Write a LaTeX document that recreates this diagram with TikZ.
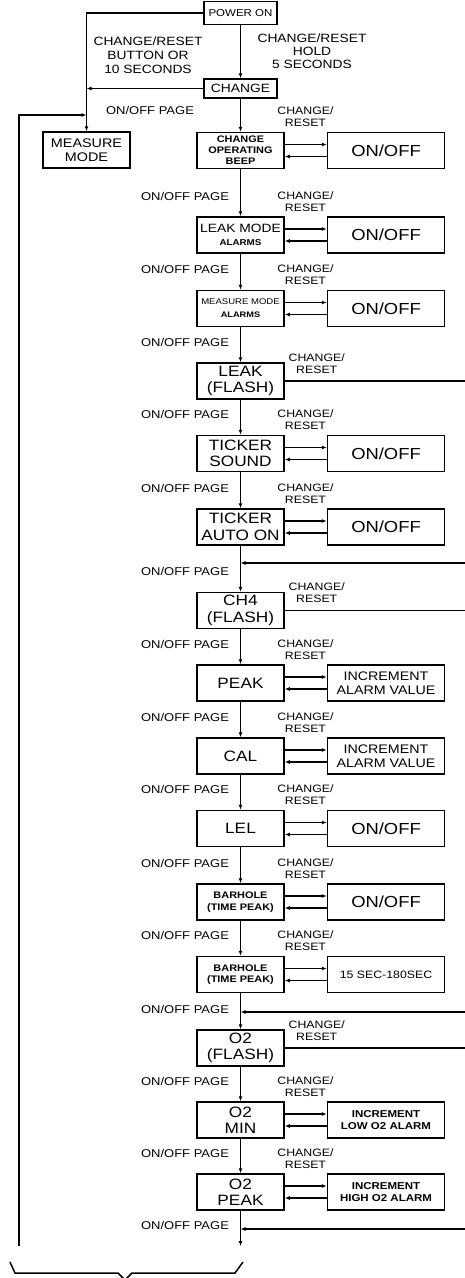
\documentclass[tikz,border=0pt]{standalone}
\usepackage{fontspec}
\setmainfont[FakeStretch=1.15]{Liberation Sans}
\usetikzlibrary{arrows.meta,positioning}
\newcommand{\fsz}[2]{\fontsize{#1}{#2}\selectfont}

\begin{document}
\begin{tikzpicture}[x=1pt,y=-1pt,line width=1.5pt,font=\fsz{11.3}{13},
    stage/.style={draw,minimum width=87pt,minimum height=36pt,align=center,inner sep=0.5pt},
    setting/.style={draw,minimum width=117pt,minimum height=36pt,align=center,
                    inner sep=0.5pt,right=42pt of #1},
    toplbl/.style={draw,minimum width=73pt,inner sep=1pt},
    big/.style={font=\fsz{15}{16.5}},
    pagelbl/.style={anchor=east,font=\fsz{11.3}{13}},
    crlbl/.style={align=center,font=\fsz{10.7}{12}},
    ar/.style={-{Latex[length=5pt,width=4pt]}}]
  \useasboundingbox (0,0) rectangle (465,1278);
  % start of the menu
  \node[toplbl,minimum height=23pt,font=\fsz{10}{12}] (pwr) at (240.5,13) {POWER ON};
  \node[toplbl,minimum height=19pt,font=\fsz{12}{13}] (chg) at (240.5,88.5) {CHANGE};
  \node[stage,font=\fsz{12.5}{14}] (meas) at (86.5,150) {MEASURE\\MODE};
  \node[align=center,font=\fsz{12}{14}] (txtbtn) at (148,55) {CHANGE/RESET\\BUTTON OR\\10 SECONDS};
  \node[align=center,font=\fsz{12}{13}] (txthold) at (312,51) {CHANGE/RESET\\HOLD\\5 SECONDS};
  \node (txtpage) at (150,110) {ON/OFF PAGE};
  % menu pages
  \node[stage,font=\fsz{9.5}{11}\bfseries] (beep) at (240.5,150.5) {CHANGE\\OPERATING\\BEEP};
  \node[stage] (leakmode) at (240.5,235) {{\fsz{12}{13}LEAK MODE}\\{\fsz{8.5}{10}\bfseries ALARMS}};
  \node[stage] (measalarm) at (240.5,308.5) {{\fsz{8.3}{9.5}MEASURE MODE}\\{\fsz{8}{9}\bfseries ALARMS}};
  \node[stage,big] (leak) at (240.5,381) {LEAK\\(FLASH)};
  \node[stage,big] (tsound) at (240.5,453.5) {TICKER\\SOUND};
  \node[stage,big] (tauto) at (240.5,527) {TICKER\\AUTO ON};
  \node[stage,big] (ch4) at (240.5,610.5) {CH4\\(FLASH)};
  \node[stage,big] (peak) at (240.5,683) {PEAK};
  \node[stage,big] (cal) at (240.5,756) {CAL};
  \node[stage,big] (lel) at (240.5,828.5) {LEL};
  \node[stage,font=\fsz{9.5}{11.5}\bfseries] (bar1) at (240.5,902) {BARHOLE\\(TIME PEAK)};
  \node[stage,font=\fsz{9.5}{11.5}\bfseries] (bar2) at (240.5,974.5) {BARHOLE\\(TIME PEAK)};
  \node[stage,big] (o2f) at (240.5,1048) {O2\\(FLASH)};
  \node[stage,big] (o2min) at (240.5,1120) {O2\\MIN};
  \node[stage,big] (o2peak) at (240.5,1192) {O2\\PEAK};
  % settings
  \node[setting=beep,font=\fsz{16}{18}] (onoff1) {ON/OFF};
  \node[setting=leakmode,font=\fsz{16}{18}] (onoff2) {ON/OFF};
  \node[setting=measalarm,font=\fsz{16}{18}] (onoff3) {ON/OFF};
  \node[setting=tsound,font=\fsz{16}{18}] (onoff4) {ON/OFF};
  \node[setting=tauto,font=\fsz{16}{18}] (onoff5) {ON/OFF};
  \node[setting=peak,font=\fsz{12.4}{14}] (incpeak) {INCREMENT\\ALARM VALUE};
  \node[setting=cal,font=\fsz{12.4}{14}] (inccal) {INCREMENT\\ALARM VALUE};
  \node[setting=lel,font=\fsz{16}{18}] (onoff6) {ON/OFF};
  \node[setting=bar1,font=\fsz{16}{18}] (onoff7) {ON/OFF};
  \node[setting=bar2,font=\fsz{10.7}{12}] (range) {15 SEC-180SEC};
  \node[setting=o2min,font=\fsz{10}{12}\bfseries] (inclow) {INCREMENT\\LOW O2 ALARM};
  \node[setting=o2peak,font=\fsz{10}{12}\bfseries] (inchigh) {INCREMENT\\HIGH O2 ALARM};
  % labels
  \foreach \n in {beep,leakmode,measalarm,tsound,tauto,peak,cal,lel,bar1,bar2,o2min,o2peak}
    \node[crlbl] (cr\n) at ([xshift=65pt,yshift=15pt]\n.north) {CHANGE/\\RESET};
  \foreach \n in {leak,ch4,o2f}
    \node[crlbl] (cr\n) at ([xshift=32pt,yshift=-1pt]\n.north east) {CHANGE/\\RESET};
  \foreach \n in {leakmode,measalarm,leak,tsound,tauto,ch4,peak,cal,lel,bar1,bar2,o2f,o2min,o2peak}
    \node[pagelbl] (pg\n) at ([xshift=-7.5pt,yshift=20pt]\n.north) {ON/OFF PAGE};
  \node[pagelbl] (pgend) at (233,1225) {ON/OFF PAGE};
  % connectors
  \coordinate (pwrleft) at (meas.north |- pwr.west);
  \coordinate (chgjoin) at (meas.north |- chg.west);
  \coordinate (looptop) at (19,115);
  \coordinate (loopbot) at (19,1246);
  \coordinate (loopjoin) at (meas.north |- looptop);
  \coordinate (edge) at (465,0);
  \coordinate (ret1) at (465,563);
  \coordinate (ret2) at (465,1012);
  \coordinate (ret3) at (465,1229);
  \coordinate (endpt) at (240.5,1246);
  \draw[ar] (pwr.west) -- (pwrleft) -- (meas.north);
  \draw[ar] (chg.west) -- (chgjoin);
  \draw[ar] (loopbot) -- (looptop) -- (loopjoin);
  \foreach \a/\b in {pwr/chg,chg/beep,beep/leakmode,leakmode/measalarm,measalarm/leak,
      leak/tsound,tsound/tauto,tauto/ch4,ch4/peak,peak/cal,cal/lel,lel/bar1,bar1/bar2,
      bar2/o2f,o2f/o2min,o2min/o2peak}
    \draw[ar] (\a) -- (\b);
  \foreach \n/\s in {beep/onoff1,leakmode/onoff2,measalarm/onoff3,tsound/onoff4,tauto/onoff5,
      peak/incpeak,cal/inccal,lel/onoff6,bar1/onoff7,bar2/range,o2min/inclow,o2peak/inchigh}{
    \draw[ar] ([yshift=6pt]\n.east) -- ([yshift=6pt]\s.west);
    \draw[ar] ([yshift=-6pt]\s.west) -- ([yshift=-6pt]\n.east);
  }
  \foreach \n in {leak,ch4,o2f}
    \draw (\n.east) -- (\n.east -| edge);
  \draw[ar] (ret1) -- (ret1 -| tauto.south);
  \draw[ar] (ret2) -- (ret2 -| bar2.south);
  \draw[ar] (ret3) -- (ret3 -| o2peak.south);
  \draw[ar] (o2peak) -- (endpt);
  % brace under the loop
  \draw (10,1262) -- (15,1273) -- (118,1273) -- (125,1280) -- (132,1273) -- (235,1273) -- (243,1262);
\end{tikzpicture}
\end{document}
